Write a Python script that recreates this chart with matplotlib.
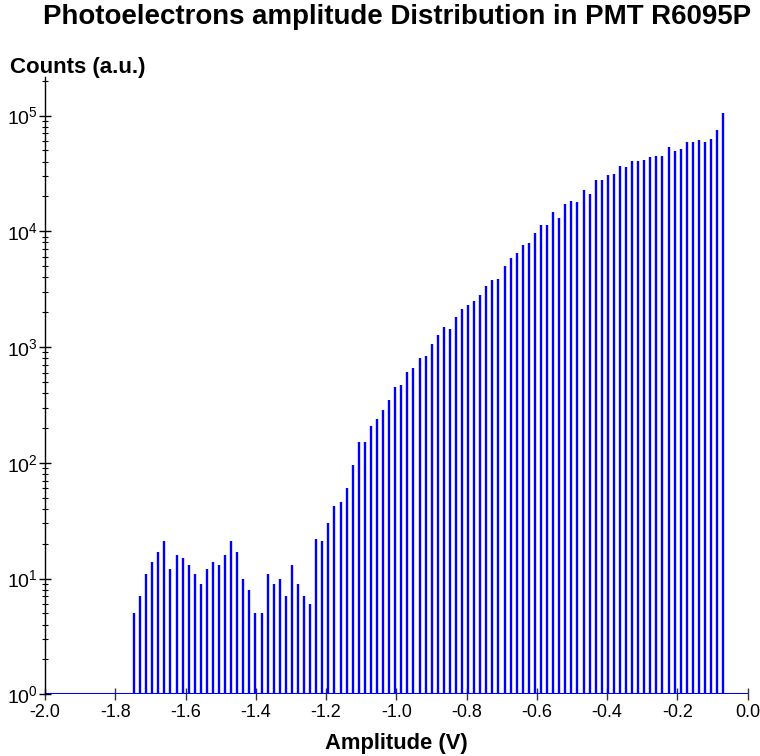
import matplotlib.pyplot as plt
import numpy as np
import matplotlib
from matplotlib.ticker import FixedLocator, NullFormatter

matplotlib.rcParams['font.family'] = ['Liberation Sans', 'DejaVu Sans']
matplotlib.rcParams['mathtext.default'] = 'regular'

title = "Photoelectrons amplitude Distribution in PMT R6095P"
x_label = "Amplitude (V)"
y_label = "Counts (a.u.)"

# amplitude bins (V): first bin centre and bin width
bin_start = -1.7467
bin_width = 0.01729

counts = [5, 7, 11, 14, 17, 21, 12, 16, 15, 13,
          11, 9, 12, 14, 13, 16, 21, 17, 10, 8,
          5, 5, 11, 9, 10, 7, 13, 9, 7, 6,
          22, 21, 30, 42, 46, 61, 95, 152, 152, 208,
          241, 287, 352, 453, 469, 607, 661, 811, 845, 1059,
          1268, 1504, 1429, 1813, 2126, 2303, 2508, 2827, 3381, 3757,
          3883, 5000, 5819, 6517, 7600, 7850, 9650, 11320, 11220, 14650,
          13090, 17180, 18240, 17990, 22700, 21100, 28000, 28000, 30800, 31400,
          36800, 35600, 40100, 40700, 41500, 43500, 45000, 45000, 53700, 49600,
          51600, 58600, 59400, 61400, 58600, 62700, 75300, 106000]

x_ticks = [-2.0, -1.8, -1.6, -1.4, -1.2, -1.0, -0.8, -0.6, -0.4, -0.2, 0.0]
y_decades = [0, 1, 2, 3, 4, 5]

amp = bin_start + bin_width * np.arange(len(counts))

fig = plt.figure(figsize=(7.6, 7.56), dpi=100)
ax = fig.add_axes([0.0592, 0.0816, 0.9246, 0.8165])

ax.vlines(amp, 1, counts, color=(0, 0, 1), lw=1.7)
ax.plot([-2.0, 0.0], [1, 1], color=(0, 0, 1), lw=1.5, solid_capstyle='butt')

ax.set_yscale('log')
ax.set_xlim(-2.0, 0.0)
ax.set_ylim(1, 2.15e5)

for s in ['top', 'right', 'bottom']:
    ax.spines[s].set_visible(False)
ax.spines['left'].set_color('black')
ax.spines['left'].set_linewidth(1.0)

ax.set_xticks(x_ticks)
ax.set_xticklabels(["%.1f" % v for v in x_ticks])
ax.yaxis.set_major_locator(FixedLocator([10.0 ** d for d in y_decades]))
ax.set_yticklabels([r"$10^{%d}$" % d for d in y_decades])
minor = [m * 10.0 ** d for d in range(0, 6) for m in range(2, 10)]
minor = [v for v in minor if v <= 2.15e5]
ax.yaxis.set_minor_locator(FixedLocator(minor))
ax.yaxis.set_minor_formatter(NullFormatter())

ax.tick_params(axis='x', direction='inout', length=8, width=1.0, color='#333333',
               labelsize=13, pad=3)
ax.tick_params(axis='y', which='major', direction='inout', length=8, width=1.0,
               color='black', labelsize=14, pad=1)
ax.tick_params(axis='y', which='minor', direction='inout', length=5, width=0.8,
               color='black')

fig.text(397 / 760, 1 - 17 / 756, title, ha='center', va='center', fontsize=19.9,
         fontweight='bold')
fig.text(10 / 760, 1 - 67 / 756, y_label, ha='left', va='center', fontsize=16,
         fontweight='bold')
fig.text(396 / 760, 1 - 743 / 756, x_label, ha='center', va='center', fontsize=15.8,
         fontweight='bold')

fig.savefig("out.png", dpi=100)
